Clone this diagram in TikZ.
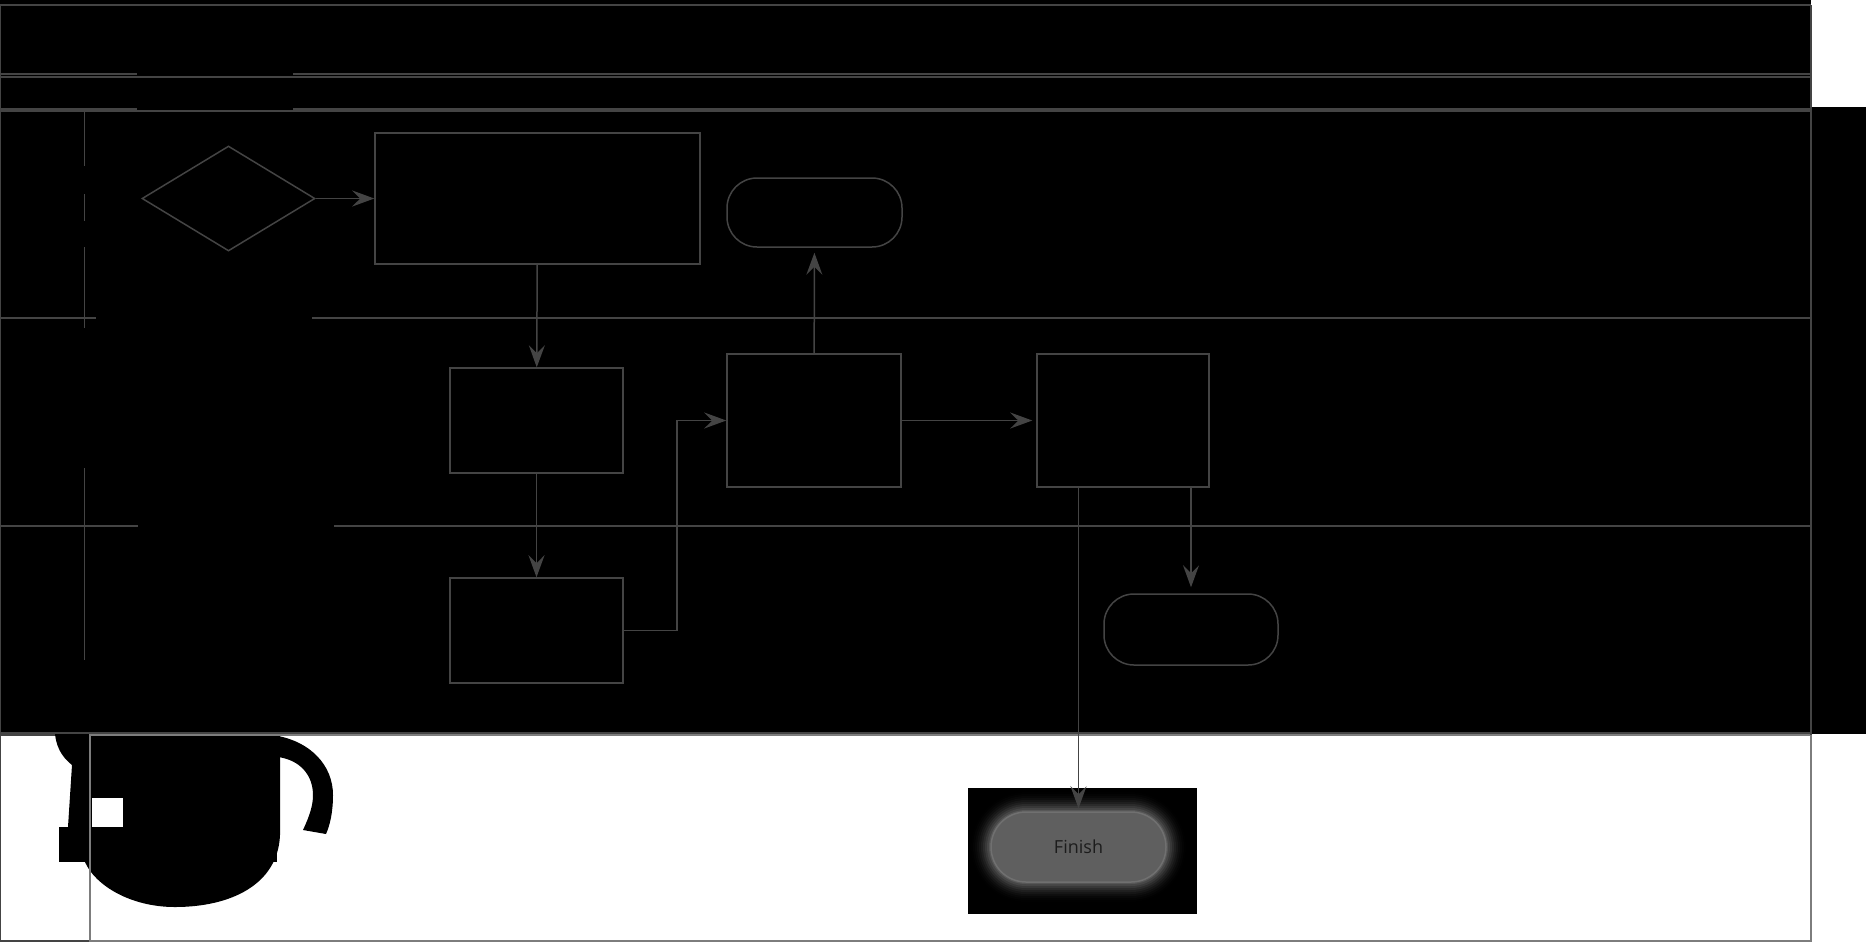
\documentclass[tikz,border=0pt]{standalone}
\usepackage{fontspec}
\setmainfont{Open Sans}
\usetikzlibrary{shapes.geometric,arrows.meta}

\definecolor{lanegray}{RGB}{68,68,68}
\definecolor{framegray}{RGB}{125,125,125}
\definecolor{finfill}{RGB}{95,95,95}
\definecolor{finline}{RGB}{112,112,112}
\definecolor{fintext}{RGB}{28,28,28}

\begin{document}
\begin{tikzpicture}[x=0.5pt, y=-0.5pt,
    lane/.style={draw=lanegray, line width=0.75pt},
    box/.style={draw=lanegray, line width=0.75pt, rectangle, inner sep=0pt},
    term/.style={box, rounded corners=15pt},
    flow/.style={draw=lanegray, line width=0.75pt, -{Stealth[length=11pt,width=8pt,inset=4pt]}}]
    \useasboundingbox (0,0) rectangle (1866,943);
    \fill[white] (0,0) rectangle (1866,943);

    % the dark pool and the strip on its right
    \fill[black] (0,0) rectangle (1811,734);
    \fill[black] (1811,107) rectangle (1866,734);

    % header and lane lines (gaps where the label boxes sit)
    \draw[lane] (0,5) -- (1811,5);
    \draw[lane] (0,74) -- (137,74) (293,74) -- (1811,74);
    \draw[lane] (0,77) -- (1811,77);
    \draw[lane] (0,109) -- (137,109) (293,109) -- (1811,109);
    \draw[lane] (0,111) -- (1811,111);
    \draw[lane] (0,318) -- (96,318) (312,318) -- (1811,318);
    \draw[lane] (0,526) -- (138,526) (334,526) -- (1811,526);
    \draw[lane] (0,733) -- (1811,733);
    \draw[lane] (0,5) -- (0,733);
    \draw[lane] (84.5,111) -- (84.5,166) (84.5,194) -- (84.5,221)
                (84.5,247) -- (84.5,328) (84.5,468) -- (84.5,660);

    % the bottom boxes
    \draw[draw=lanegray, line width=0.75pt] (0.5,735) rectangle (90,941);

    % the broken glyphs at the bottom left
    \fill[black] (55,734) .. controls (57,752) and (66,760) .. (72,765) -- (68,827) -- (90,827) -- (90,734) -- cycle;
    \fill[black] (90,734) -- (280,734) -- (280,835) .. controls (278,885) and (230,907) .. (175,907)
        .. controls (130,907) and (95,885) .. (85,862) -- cycle;
    \fill[black] (278,736) .. controls (310,742) and (333,765) .. (333,795) .. controls (333,812) and (330,825) .. (326,834)
        -- (303,830) .. controls (310,815) and (313,805) .. (313,795) .. controls (313,775) and (300,760) .. (278,757) -- cycle;
    \fill[white] (92,798) rectangle (123,827);
    \fill[black] (59,827) rectangle (277,862);

    \draw[draw=framegray, line width=0.75pt] (90,735) rectangle (1811,941);
    \draw[lane] (1811,5) -- (1811,735);

    % the shapes of the flow
    \node[box, shape=diamond, minimum width=86.5pt, minimum height=52.5pt] (d1) at (228.5,198.5) {};
    \node[box, minimum width=162.5pt, minimum height=65.5pt] (p1) at (537.5,198.5) {};
    \node[term, minimum width=87.5pt, minimum height=34.5pt] (e1) at (814.5,212.5) {};
    \node[box, minimum width=86.5pt, minimum height=52.5pt] (p2) at (536.5,420.5) {};
    \node[box, minimum width=86.5pt, minimum height=52.5pt] (p3) at (536.5,630.5) {};
    \node[box, minimum width=87pt, minimum height=66.5pt] (p4) at (814,420.5) {};
    \node[box, minimum width=86pt, minimum height=66.5pt] (p5) at (1123,420.5) {};
    \node[term, minimum width=87pt, minimum height=35.5pt] (e2) at (1191,629.5) {};

    % the glowing end node
    \fill[black] (968,788) rectangle (1197,914);
    \foreach \k in {10,9,...,1} {
        \pgfmathsetmacro\lev{34*((11-\k)/10)^2}
        \pgfmathsetmacro\rad{17.5+\k}
        \fill[white!\lev!black, rounded corners=\rad pt] (991-2*\k,812-2*\k) rectangle (1166+2*\k,882+2*\k);
    }
    \node[fill=finfill, draw=finline, line width=0.75pt, rounded corners=17.5pt, minimum width=87.5pt,
          minimum height=35pt, text=fintext, font=\fontsize{9}{11}\selectfont] (fin) at (1078.5,847) {Finish};

    % draw the arrows
    \draw[flow] (d1) -- (p1);
    \draw[flow] (p1) -- (p2);
    \draw[flow] (p2) -- (p3);
    \draw[flow] (p3.east) -- ++(53,0) |- (p4.west);
    \draw[flow, shorten >=2.5pt] (p4) -- (e1);
    \draw[flow, shorten >=2pt] (p4) -- (p5);
    \draw[flow, shorten >=3pt] (e2.north |- p5.south) -- (e2.north);
    \draw[flow, shorten >=1.5pt] (p5.south -| fin.north) -- (fin.north);

\end{tikzpicture}
\end{document}
